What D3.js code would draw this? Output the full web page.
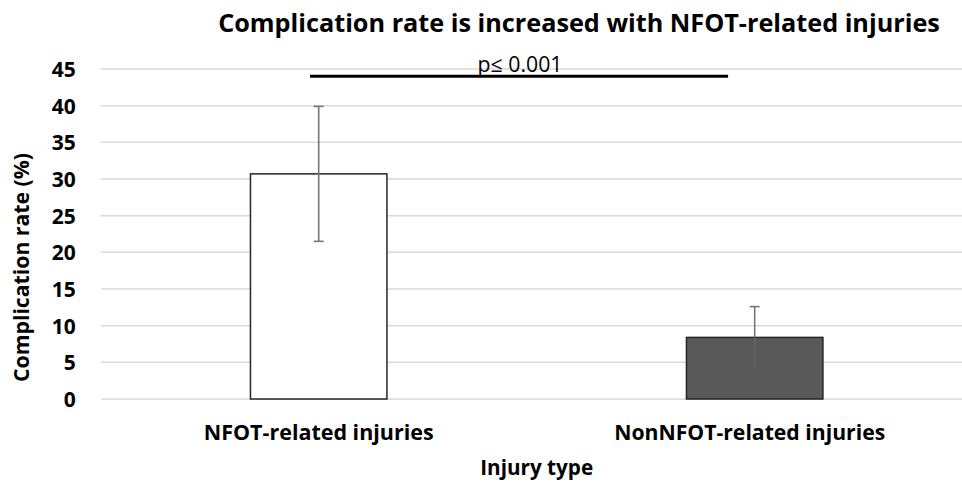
<!DOCTYPE html>
<html>
<head>
<meta charset="utf-8">
<script src="https://cdn.jsdelivr.net/npm/d3@7"></script>
<style>
  html, body { margin: 0; padding: 0; background: #fff; }
  svg { display: block; font-family: "Open Sans", "Noto Sans", sans-serif; }
</style>
</head>
<body>
<svg id="chart" width="962" height="482"></svg>
<script>
// ---- data ----
const categories = ["NFOT-related injuries", "NonNFOT-related injuries"];
const values = [30.7, 8.4];
const errors = [9.2, 4.2];
const yTicks = [0, 5, 10, 15, 20, 25, 30, 35, 40, 45];
const titleText = "Complication rate is increased with NFOT-related injuries";
const yTitle = "Complication rate (%)";
const xTitle = "Injury type";
const pText = "p\u2264 0.001";
const bracketValue = 44;

// ---- layout ----
const W = 962, H = 482;
const plot = { left: 100.7, right: 972.7, top: 69, bottom: 399 };
const svg = d3.select("#chart");

const x = d3.scaleBand().domain(categories).range([plot.left, plot.right]).paddingInner(0.687).paddingOuter(0.3435);
const y = d3.scaleLinear().domain([0, 45]).range([plot.bottom, plot.top]);
const step = x.step();
const cx = c => x(c) + x.bandwidth() / 2;

function fit(sel, target) {
  const n = sel.node();
  let fs = parseFloat(sel.attr("font-size"));
  const len = n.getComputedTextLength();
  sel.attr("font-size", (fs * target / len).toFixed(2));
}

// gridlines
svg.append("g").selectAll("line").data(yTicks).join("line")
  .attr("x1", plot.left).attr("x2", plot.right)
  .attr("y1", d => y(d)).attr("y2", d => y(d))
  .attr("stroke", "#d9d9d9").attr("stroke-width", 1.5);

// y axis tick labels
const yAxis = svg.append("g").attr("transform", `translate(${plot.left - 25},0)`)
  .call(d3.axisLeft(y).tickValues(yTicks).tickSize(0).tickPadding(0));
yAxis.select(".domain").remove();
yAxis.selectAll("text")
  .attr("font-family", '"Open Sans", sans-serif')
  .attr("font-size", 21).attr("font-weight", "bold").attr("fill", "#000")
  .attr("dy", "0.36em");

// bars
const fills = ["#ffffff", "#595959"];
const strokes = ["#262626", "#262626"];
svg.append("g").selectAll("rect").data(categories).join("rect")
  .attr("x", d => x(d)).attr("width", x.bandwidth())
  .attr("y", (d, i) => y(values[i]))
  .attr("height", (d, i) => y(0) - y(values[i]))
  .attr("fill", (d, i) => fills[i])
  .attr("stroke", (d, i) => strokes[i]).attr("stroke-width", 1.5);

// error bars
const eg = svg.append("g").attr("stroke", "#767676").attr("stroke-width", 1.6);
categories.forEach((c, i) => {
  const xc = cx(c);
  const lo = y(values[i] - errors[i]), hi = y(values[i] + errors[i]);
  if (i === 1) {
    eg.append("line").attr("x1", xc).attr("x2", xc).attr("y1", y(values[i])).attr("y2", hi);
    eg.append("line").attr("x1", xc).attr("x2", xc).attr("y1", lo).attr("y2", y(values[i]))
      .attr("stroke", "#626262");
  } else {
    eg.append("line").attr("x1", xc).attr("x2", xc).attr("y1", lo).attr("y2", hi);
    eg.append("line").attr("x1", xc - 5).attr("x2", xc + 5).attr("y1", lo).attr("y2", lo);
  }
  eg.append("line").attr("x1", xc - 5).attr("x2", xc + 5).attr("y1", hi).attr("y2", hi);
});

// significance bracket
const bx1 = cx(categories[0]) - 0.02 * step;
const bx2 = cx(categories[1]) - 0.061 * step;
svg.append("line").attr("x1", bx1).attr("x2", bx2)
  .attr("y1", y(bracketValue)).attr("y2", y(bracketValue))
  .attr("stroke", "#000").attr("stroke-width", 3);
const pt = svg.append("text").attr("x", (bx1 + bx2) / 2 + 1).attr("y", y(bracketValue) - 4)
  .attr("text-anchor", "middle").attr("font-size", 17).attr("fill", "#000").text(pText);
fit(pt, 85);

// category labels
const cl = svg.append("g").selectAll("text").data(categories).join("text")
  .attr("x", d => cx(d) - (categories.indexOf(d) === 1 ? 5 : 0)).attr("y", 440)
  .attr("text-anchor", "middle").attr("font-size", 18).attr("font-weight", "bold")
  .attr("fill", "#000").text(d => d);
cl.each(function (d, i) { fit(d3.select(this), i === 0 ? 230 : 271); });

// axis titles
const xt = svg.append("text").attr("x", (plot.left + plot.right) / 2).attr("y", 475)
  .attr("text-anchor", "middle").attr("font-size", 18).attr("font-weight", "bold").text(xTitle);
fit(xt, 113);
const yt = svg.append("text").attr("transform", "translate(29,267.5) rotate(-90)")
  .attr("text-anchor", "middle").attr("font-size", 18).attr("font-weight", "bold").text(yTitle);
fit(yt, 229);

// title
const tt = svg.append("text").attr("x", 579).attr("y", 32)
  .attr("text-anchor", "middle").attr("font-size", 24).attr("font-weight", "bold").text(titleText);
fit(tt, 722);
</script>
</body>
</html>
